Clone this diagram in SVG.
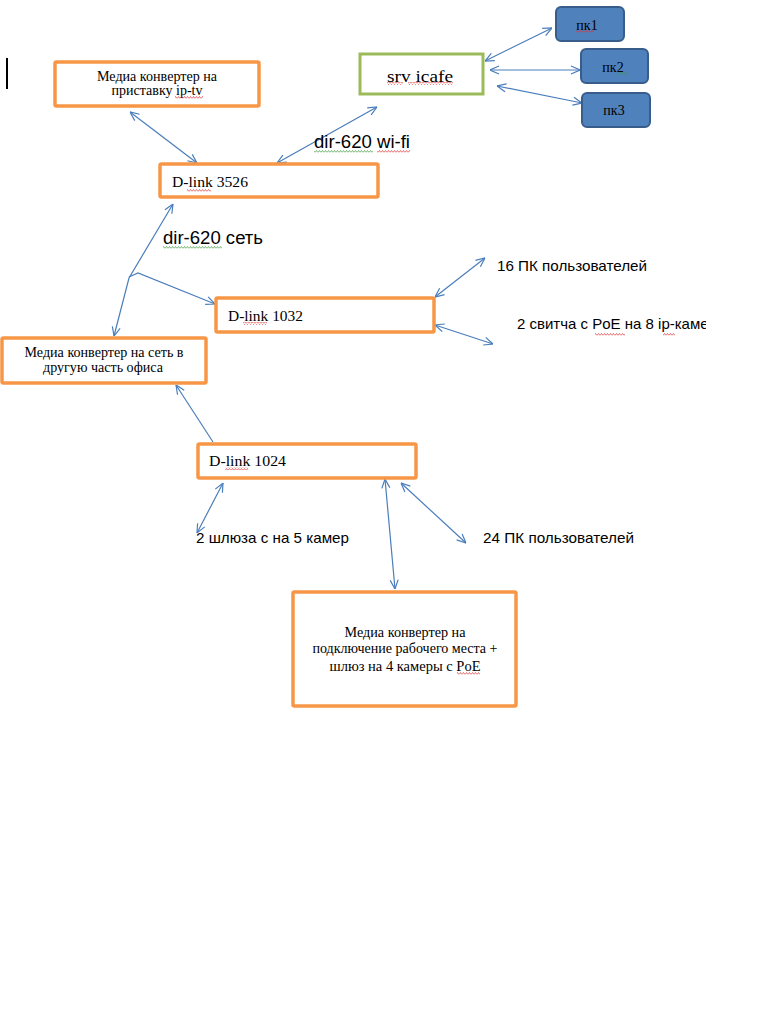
<svg xmlns="http://www.w3.org/2000/svg" width="768" height="1024" viewBox="0 0 768 1024">
<style>
.ob{fill:#fff;stroke:#F79646;stroke-width:3.5}
.gb{fill:#fff;stroke:#9BBB59;stroke-width:3}
.bb{fill:#4F81BD;stroke:#385D8A;stroke-width:2}
.ser{font-family:"Liberation Serif","Times New Roman",serif;fill:#000}
.san{font-family:"Liberation Sans",Arial,sans-serif;fill:#000}
.c{text-anchor:middle}
.ln{fill:none;stroke:#4A7EBB;stroke-width:1.2}
</style>
<defs>
<marker id="ah" viewBox="0 0 10 10" refX="10" refY="5" markerWidth="10" markerHeight="10" markerUnits="userSpaceOnUse" orient="auto-start-reverse">
<path d="M1,1 L10,5 L1,9" fill="none" stroke="#4A7EBB" stroke-width="1.2"/>
</marker>
<pattern id="wr" width="3" height="3" patternUnits="userSpaceOnUse"><path d="M0,2.5 L1.5,0.5 L3,2.5" fill="none" stroke="#E03030" stroke-width="0.7"/></pattern>
<pattern id="wg" width="3" height="3" patternUnits="userSpaceOnUse"><path d="M0,2.5 L1.5,0.5 L3,2.5" fill="none" stroke="#3A9A3A" stroke-width="0.7"/></pattern>
<clipPath id="cl" clipPathUnits="userSpaceOnUse"><rect x="0" y="300" width="706" height="50"/></clipPath>
</defs>
<rect width="768" height="1024" fill="#fff"/>
<rect x="6" y="58" width="2" height="31" fill="#000"/>

<g id="connectors">
<line class="ln" x1="130" y1="112" x2="197" y2="163" marker-start="url(#ah)" marker-end="url(#ah)"/>
<line class="ln" x1="277" y1="163" x2="377" y2="107" marker-start="url(#ah)" marker-end="url(#ah)"/>
<line class="ln" x1="485" y1="61" x2="552" y2="28" marker-start="url(#ah)" marker-end="url(#ah)"/>
<line class="ln" x1="490" y1="70" x2="580" y2="70" marker-start="url(#ah)" marker-end="url(#ah)"/>
<line class="ln" x1="497" y1="86" x2="582" y2="103" marker-start="url(#ah)" marker-end="url(#ah)"/>
<polyline class="ln" points="173,204 129,278 114,336" marker-start="url(#ah)" marker-end="url(#ah)"/>
<polyline class="ln" points="129,277 138,273 215,304" marker-end="url(#ah)"/>
<line class="ln" x1="176" y1="385" x2="213" y2="442" marker-start="url(#ah)"/>
<line class="ln" x1="435" y1="297" x2="485" y2="258" marker-start="url(#ah)" marker-end="url(#ah)"/>
<line class="ln" x1="435" y1="325" x2="493" y2="344" marker-start="url(#ah)" marker-end="url(#ah)"/>
<line class="ln" x1="223" y1="483" x2="197" y2="533" marker-start="url(#ah)" marker-end="url(#ah)"/>
<line class="ln" x1="385" y1="479" x2="395" y2="589" marker-start="url(#ah)" marker-end="url(#ah)"/>
<line class="ln" x1="401" y1="483" x2="466" y2="543" marker-start="url(#ah)" marker-end="url(#ah)"/>
</g>

<g id="mc-iptv">
<rect class="ob" x="55" y="62" width="204" height="44" rx="1.5"/>
<text class="ser c" x="157" y="81" font-size="14" textLength="120" lengthAdjust="spacingAndGlyphs">Медиа конвертер на</text>
<text class="ser c" x="157" y="95" font-size="14" textLength="91" lengthAdjust="spacingAndGlyphs">приставку ip-tv</text>
<rect x="175" y="96" width="28" height="3" fill="url(#wr)"/>
</g>

<g id="srv-icafe">
<rect class="gb" x="360" y="54" width="123" height="40"/>
<text class="ser c" x="420" y="82" font-size="17" textLength="66" lengthAdjust="spacingAndGlyphs">srv icafe</text>
<rect x="387" y="82" width="16" height="3" fill="url(#wr)"/>
<rect x="408" y="82" width="45" height="3" fill="url(#wr)"/>
</g>

<g id="pk1">
<rect class="bb" x="556" y="7" width="68" height="34" rx="5"/>
<text class="ser c" x="587" y="30" font-size="14">пк1</text>
<rect x="576" y="30" width="18" height="3" fill="url(#wr)"/>
</g>
<g id="pk2">
<rect class="bb" x="581" y="49" width="67" height="34" rx="5"/>
<text class="ser c" x="613" y="72" font-size="14">пк2</text>
<rect x="617" y="72" width="10" height="3" fill="url(#wg)"/>
</g>
<g id="pk3">
<rect class="bb" x="582" y="93" width="68" height="34" rx="5"/>
<text class="ser c" x="614" y="115" font-size="14">пк3</text>
</g>

<g id="dlink3526">
<rect class="ob" x="160" y="164" width="218" height="33" rx="1.5"/>
<text class="ser" x="172" y="187" font-size="15" textLength="76" lengthAdjust="spacingAndGlyphs">D-link 3526</text>
<rect x="187" y="189" width="24" height="3" fill="url(#wr)"/>
</g>

<g id="lbl-wifi">
<text class="san" x="314" y="148" font-size="18" textLength="96" lengthAdjust="spacingAndGlyphs">dir-620 wi-fi</text>
<rect x="314" y="150" width="59" height="3" fill="url(#wg)"/>
<rect x="377" y="150" width="33" height="3" fill="url(#wr)"/>
</g>

<g id="lbl-set">
<text class="san" x="163" y="244" font-size="18" textLength="100" lengthAdjust="spacingAndGlyphs">dir-620 сеть</text>
<rect x="163" y="246" width="59" height="3" fill="url(#wg)"/>
</g>

<g id="dlink1032">
<rect class="ob" x="216" y="298" width="218" height="34" rx="1.5"/>
<text class="ser" x="228" y="321" font-size="15" textLength="75" lengthAdjust="spacingAndGlyphs">D-link 1032</text>
<rect x="243" y="322" width="24" height="3" fill="url(#wr)"/>
</g>

<g id="lbl-16pc">
<text class="san" x="497" y="271" font-size="14.5" textLength="150" lengthAdjust="spacingAndGlyphs">16 ПК пользователей</text>
</g>

<g id="lbl-poe8" clip-path="url(#cl)">
<text class="san" x="517" y="329" font-size="15">2 свитча с PoE на 8 ip-камер</text>
<rect x="595" y="333" width="30" height="3" fill="url(#wr)"/>
<rect x="663" y="333" width="12" height="3" fill="url(#wr)"/>
</g>

<g id="mc-office">
<rect class="ob" x="2" y="338" width="204" height="45" rx="1.5"/>
<text class="ser c" x="104" y="357" font-size="14" textLength="159" lengthAdjust="spacingAndGlyphs">Медиа конвертер на сеть в</text>
<text class="ser c" x="103" y="372" font-size="14" textLength="120" lengthAdjust="spacingAndGlyphs">другую часть офиса</text>
</g>

<g id="dlink1024">
<rect class="ob" x="198" y="444" width="218" height="34" rx="1.5"/>
<text class="ser" x="209" y="466" font-size="15" textLength="77" lengthAdjust="spacingAndGlyphs">D-link 1024</text>
<rect x="225" y="467" width="23" height="3" fill="url(#wr)"/>
</g>

<g id="lbl-gw5">
<text class="san" x="196" y="543" font-size="14.5" textLength="153" lengthAdjust="spacingAndGlyphs">2 шлюза с на 5 камер</text>
</g>

<g id="lbl-24pc">
<text class="san" x="483" y="543" font-size="14.5" textLength="151" lengthAdjust="spacingAndGlyphs">24 ПК пользователей</text>
</g>

<g id="mc-workplace">
<rect class="ob" x="293" y="592" width="223" height="114" rx="1.5"/>
<text class="ser c" x="405" y="637" font-size="14" textLength="121" lengthAdjust="spacingAndGlyphs">Медиа конвертер на</text>
<text class="ser c" x="405" y="653" font-size="14" textLength="185" lengthAdjust="spacingAndGlyphs">подключение рабочего места +</text>
<text class="ser c" x="405" y="671" font-size="14" textLength="151" lengthAdjust="spacingAndGlyphs">шлюз  на 4 камеры с PoE</text>
<rect x="457" y="672" width="23" height="3" fill="url(#wr)"/>
</g>
</svg>
